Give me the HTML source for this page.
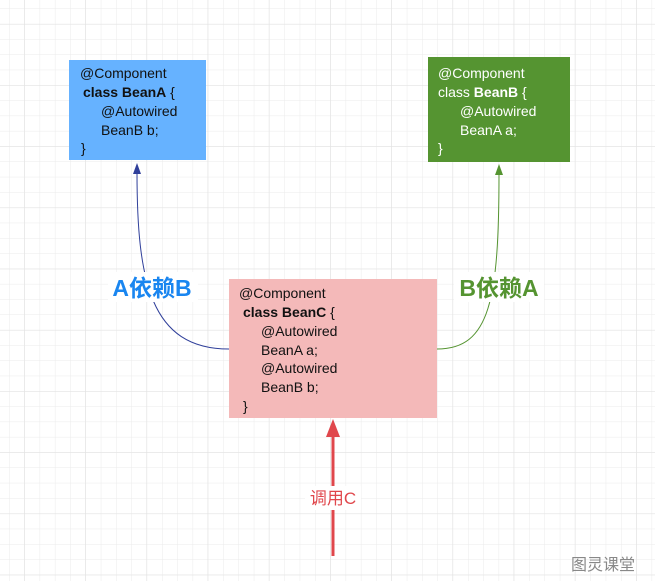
<!DOCTYPE html>
<html><head><meta charset="utf-8"><style>
html,body{margin:0;padding:0;background:#fff}
svg text{font-family:"Liberation Sans","Noto Sans CJK SC",sans-serif}
</style></head><body>
<svg width="655" height="581" viewBox="0 0 655 581" xmlns="http://www.w3.org/2000/svg">
<defs>
<pattern id="g" x="9" y="8.5" width="15.3" height="15.3" patternUnits="userSpaceOnUse">
<path d="M0 0V15.3M0 0H15.3" stroke="#ebebeb" stroke-width="1" fill="none"/>
</pattern>
<pattern id="g2" x="24" y="24" width="61.2" height="61.2" patternUnits="userSpaceOnUse">
<path d="M0 0V61.2M0 0H61.2" stroke="#e2e2e2" stroke-width="1" fill="none"/>
</pattern>
</defs>
<rect width="655" height="581" fill="url(#g)"/>
<rect width="655" height="581" fill="url(#g2)"/>

<rect x="69" y="60" width="137" height="100" fill="#66b2ff"/>
<text font-size="14" fill="#111">
<tspan x="80" y="78">@Component</tspan>
<tspan x="83" y="97"><tspan font-weight="bold">class BeanA</tspan> {</tspan>
<tspan x="101" y="116">@Autowired</tspan>
<tspan x="101" y="135">BeanB b;</tspan>
<tspan x="81" y="153">}</tspan>
</text>

<rect x="428" y="57" width="142" height="105" fill="#559431"/>
<text font-size="14" fill="#fff">
<tspan x="438" y="78">@Component</tspan>
<tspan x="438" y="97">class <tspan font-weight="bold">BeanB</tspan> {</tspan>
<tspan x="460" y="116">@Autowired</tspan>
<tspan x="460" y="135">BeanA a;</tspan>
<tspan x="438" y="153">}</tspan>
</text>

<rect x="229" y="279" width="208" height="139" fill="#f4b9b9"/>
<text font-size="14" fill="#111">
<tspan x="239" y="298">@Component</tspan>
<tspan x="243" y="317"><tspan font-weight="bold">class BeanC</tspan> {</tspan>
<tspan x="261" y="336">@Autowired</tspan>
<tspan x="261" y="355">BeanA a;</tspan>
<tspan x="261" y="373">@Autowired</tspan>
<tspan x="261" y="392">BeanB b;</tspan>
<tspan x="243" y="411">}</tspan>
</text>

<path d="M229 349 C150 349 137 280 137 172" stroke="#2f3f9a" fill="none" stroke-width="1"/>
<path d="M137 163 L133 174 L141 174 Z" fill="#2f3f9a"/>
<rect x="108" y="272" width="90" height="30" fill="#fff"/>
<text x="152" y="296" font-size="23" font-weight="bold" fill="#1a86f0" text-anchor="middle">A依赖B</text>

<path d="M437 349 C490 349 499 300 499 173" stroke="#559431" fill="none" stroke-width="1"/>
<path d="M499 164 L495 175 L503 175 Z" fill="#559431"/>
<rect x="454" y="272" width="90" height="30" fill="#fff"/>
<text x="499" y="296" font-size="23" font-weight="bold" fill="#559431" text-anchor="middle">B依赖A</text>

<path d="M333 556 V436" stroke="#e0474c" stroke-width="3" fill="none"/>
<path d="M333 419 L326 437 L340 437 Z" fill="#e0474c"/>
<rect x="305" y="486" width="56" height="24" fill="#fff"/>
<text x="333" y="504" font-size="17" fill="#e0474c" text-anchor="middle">调用C</text>

<text x="571" y="570" font-size="16" fill="#888">图灵课堂</text>
</svg>
</body></html>
